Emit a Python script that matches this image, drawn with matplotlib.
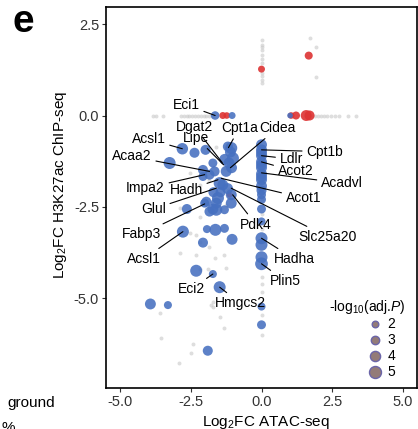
import numpy as np
import matplotlib
matplotlib.use("Agg")
import matplotlib.pyplot as plt

plt.rcParams['font.family'] = ['Liberation Sans', 'DejaVu Sans']
plt.rcParams['mathtext.fontset'] = 'custom'
plt.rcParams['mathtext.rm'] = 'Liberation Sans'
plt.rcParams['mathtext.it'] = 'Liberation Sans:italic'

# background genes (grey)
gray_x = [0, 0, 0, 0, 0, 0, 0, 0, 0, 0, 0,
          0, 0, 0, 0, 0, 0, 0, 0,
          1.71, 1.93, 1.93,
          -3.85, -3.72, -3.50, -2.85, -2.75, -2.65, -2.55, -2.45, -2.35, -2.25,
          -2.15, -2.05, -1.95, -1.85, -1.75,
          1.80, 1.90, 2.00, 2.10, 2.20, 2.30, 2.45, 2.60, 2.75, 3.05, 3.35,
          -2.90, -2.31, -1.66, -1.31, -1.84, -2.54, -2.31, -2.19, -3.60, -3.54,
          -2.43, -2.48, -2.92, -1.78, -1.48, -1.33, -2.90, -2.19, -2.19, -1.91,
          -1.25, -1.72, -1.72, -2.54, -2.19, -1.84, -1.60, -1.30, -1.20, -1.25]
gray_y = [2.07, 1.94, 1.87, 1.78, 1.66, 1.55, 1.44, 1.16, 1.07, 0.98, 0.89,
          -2.30, -2.70, -3.10, -4.43, -4.82, -5.46, -6.01, -4.60,
          2.12, 1.87, 1.05,
          0, 0, 0, 0, 0, 0, 0, 0, 0, 0,
          0, 0, 0, 0, 0,
          0, 0, 0, 0, 0, 0, 0, 0, 0, 0, 0,
          -3.77, -3.82, -3.91, -3.82, -3.59, -3.22, -3.27, -3.45, -5.40, -6.10,
          -6.25, -6.51, -6.78, -5.19, -5.51, -5.81, -2.54, -2.77, -4.21, -4.20,
          -4.18, -5.10, -5.23, -1.58, -1.90, -1.76, -0.85, -1.45, -2.05, -2.45]

# up-regulated genes (red)
red_x = [0.0, 1.67, -1.37, -1.23, 1.05, 1.22, 1.58, 1.70, -1.13]
red_y = [1.27, 1.64, 0.0, 0.0, 0.0, 0.0, 0.0, 0.0, -2.17]
red_p = [2.2, 2.8, 2.2, 2.0, 2.0, 2.8, 4.4, 3.9, 1.5]

# down-regulated genes (blue)
blue_x = [-1.64, -1.04, 1.01, -2.80, -3.25, -2.37, -1.98, -2.07, -1.72,
          -1.07, -1.01, -1.19, -1.25, -1.06, -1.84, -1.48, -1.37, -1.07,
          -1.54, -1.95, -1.07, -1.31, -1.72, -1.60, -2.64, -2.01, -1.84,
          -1.60, -2.78, -1.93, -1.63, -1.31, -2.07, -1.04, -2.31, -1.72,
          -1.48, -3.93, -3.31, -1.90, -1.66, -2.07,
          -1.10, -1.15, -1.20, -1.45, -1.70, -1.30,
          0, 0, 0, 0, 0, 0, 0, 0, 0, 0, 0, 0, 0, 0, 0, 0, 0,
          0, 0, 0, 0, 0]
blue_y = [0.0, 0.0, 0.0, -0.91, -1.30, -1.02, -0.94, -1.49, -1.30,
          -0.89, -1.17, -0.85, -1.53, -1.43, -1.62, -1.85, -1.90, -2.17,
          -2.26, -2.36, -2.40, -2.58, -2.56, -2.40, -2.56, -2.40, -2.63,
          -2.58, -3.18, -3.11, -3.13, -3.09, -3.48, -3.39, -4.25, -4.34,
          -4.70, -5.16, -5.19, -6.44, -1.53, -1.67,
          -1.00, -1.30, -2.00, -2.10, -2.10, -1.20,
          -0.80, -0.94, -1.10, -1.27, -1.43, -1.60, -1.76, -1.93, -2.17,
          -2.56, -2.90, -3.36, -3.54, -3.88, -4.06, -5.23, -5.73,
          -1.02, -1.35, -1.68, -2.05, -2.30]
blue_p = [3.1, 2.2, 1.5, 4.7, 5.0, 3.9, 3.9, 3.9, 3.3,
          5.0, 5.0, 3.9, 4.4, 4.4, 3.9, 5.0, 4.4, 4.4,
          5.0, 3.9, 4.4, 3.3, 4.4, 4.4, 3.9, 3.3, 3.9,
          5.0, 5.0, 2.8, 5.0, 3.3, 3.9, 4.4, 5.0, 2.8,
          5.0, 4.4, 2.8, 3.9, 3.9, 3.3,
          4.4, 4.4, 4.4, 3.9, 3.9, 4.4,
          4.4, 4.4, 4.4, 4.4, 4.4, 4.4, 4.4, 4.4, 3.3,
          3.3, 2.8, 5.0, 5.0, 5.0, 5.4, 2.8, 3.3,
          4.4, 4.4, 4.4, 3.9, 3.3]

# labelled genes: name, point, label position
genes = ['Eci1', 'Dgat2', 'Lipe', 'Cpt1a', 'Cidea', 'Acsl1', 'Acaa2', 'Cpt1b',
         'Ldlr', 'Acot2', 'Acadvl', 'Acot1', 'Impa2', 'Hadh', 'Glul', 'Fabp3',
         'Pdk4', 'Slc25a20', 'Acsl1', 'Hadha', 'Plin5', 'Eci2', 'Hmgcs2']
gene_x = [-1.64, -1.39, -1.34, -1.17, -1.10, -2.80, -1.84, 0, 0, 0, 0, -1.42,
          -2.01, -1.54, -1.60, -2.01, -1.02, -1.07, -2.78, 0, 0, -1.72, -1.48]
gene_y = [0.0, -1.29, -1.35, -0.88, -1.43, -0.91, -1.53, -0.94, -1.10, -1.27,
          -1.57, -1.72, -1.62, -1.76, -1.99, -2.42, -2.17, -1.99, -3.18, -3.36,
          -4.06, -4.34, -4.70]
text_x = [-2.66, -2.37, -2.30, -0.78, 0.57, -3.99, -4.58, 2.23, 1.05, 1.20,
          2.84, 1.48, -4.10, -2.66, -3.82, -4.25, -0.19, 2.33, -4.17, 1.17,
          0.84, -2.48, -0.75]
text_y = [0.29, -0.31, -0.61, -0.34, -0.34, -0.65, -1.12, -0.99, -1.19, -1.53,
          -1.85, -2.26, -1.99, -2.04, -2.56, -3.25, -2.99, -3.32, -3.93, -3.93,
          -4.53, -4.75, -5.14]

legend_p = [2, 3, 4, 5]


def size_of(p):
    r = 1.5 + 0.9 * np.asarray(p)  # radius in px
    return (1.44 * r) ** 2


fig = plt.figure(figsize=(4.18, 4.29), dpi=100)
ax = fig.add_axes([0.2536, 0.0956, 0.744, 0.888])

ax.scatter(gray_x, gray_y, s=8, color='#c8c8c8', alpha=0.6, lw=0, zorder=1)
ax.scatter(red_x, red_y, s=size_of(red_p), color='#dd3333', alpha=0.9, lw=0, zorder=2)
ax.scatter(blue_x, blue_y, s=size_of(blue_p), color='#4670c0', alpha=0.88, lw=0, zorder=3)

for name, gx, gy, tx, ty in zip(genes, gene_x, gene_y, text_x, text_y):
    ax.annotate(name, xy=(gx, gy), xytext=(tx, ty), ha='center', va='center',
                fontsize=10, zorder=5,
                arrowprops=dict(arrowstyle='-', color='black', lw=0.8,
                                shrinkA=1, shrinkB=0))

ax.set_xlim(-5.5, 5.5)
ax.set_ylim(-7.46, 2.97)
ax.set_xticks([-5, -2.5, 0, 2.5, 5])
ax.set_xticklabels(['-5.0', '-2.5', '0.0', '2.5', '5.0'])
ax.set_yticks([-5, -2.5, 0, 2.5])
ax.set_yticklabels(['-5.0', '-2.5', '0.0', '2.5'])
ax.tick_params(labelsize=10.5, length=3, width=0.8, color='#333333',
               labelcolor='#333333', pad=2)
for sp in ax.spines.values():
    sp.set_linewidth(1.2)
    sp.set_color('black')

ax.set_xlabel('Log$_2$FC ATAC-seq', fontsize=11)
ax.set_ylabel('Log$_2$FC H3K27ac ChIP-seq', fontsize=11)
ax.xaxis.set_label_coords(0.514, -0.069)
ax.yaxis.set_label_coords(-0.12, 0.533)

# size legend (title drawn separately so the keys sit right of its centre)
handles = [ax.scatter([], [], s=size_of(p), facecolor='#937b78',
                      edgecolor='#6b65a8', lw=1) for p in legend_p]
ax.legend(handles, [str(p) for p in legend_p],
          loc='lower right', bbox_to_anchor=(0.93, 0.024), frameon=False,
          fontsize=10, labelspacing=0.15, borderpad=0, borderaxespad=0,
          handlelength=1.0, handletextpad=0.4)
ax.text(0.839, 0.213, '-log$_{10}$(adj.$P$)', transform=ax.transAxes,
        ha='center', va='center', fontsize=10)

fig.text(13 / 418, 1 - 22 / 429, 'e', fontsize=28, fontweight='bold', va='center')
fig.text(55 / 418, 1 - 403 / 429, 'ground', fontsize=11, ha='right', va='center')
fig.text(2 / 418, 1 - 428 / 429, '%', fontsize=11, ha='left', va='center')

fig.savefig('out.png', dpi=100)
